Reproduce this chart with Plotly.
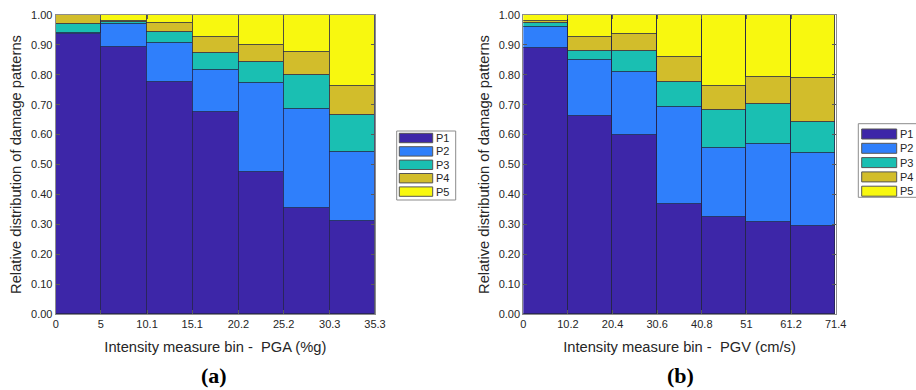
import plotly.graph_objects as go

patterns = ["P1", "P2", "P3", "P4", "P5"]
colors = ["#3d26a8", "#2f7ffb", "#1abfb2", "#d2bd2b", "#f8f80f"]

# Panel (a): PGA bins
pga_edges = [0, 5, 10.1, 15.1, 20.2, 25.2, 30.3, 35.3]
pga_labels = ["0", "5", "10.1", "15.1", "20.2", "25.2", "30.3", "35.3"]
pga_P1 = [0.937, 0.892, 0.776, 0.676, 0.474, 0.353, 0.311]
pga_P2 = [0.002, 0.077, 0.132, 0.140, 0.297, 0.333, 0.230]
pga_P3 = [0.030, 0.007, 0.034, 0.056, 0.072, 0.112, 0.125]
pga_P4 = [0.031, 0.004, 0.031, 0.054, 0.056, 0.078, 0.098]
pga_P5 = [0.000, 0.020, 0.027, 0.074, 0.101, 0.124, 0.236]

# Panel (b): PGV bins
pgv_edges = [0, 10.2, 20.4, 30.6, 40.8, 51, 61.2, 71.4]
pgv_labels = ["0", "10.2", "20.4", "30.6", "40.8", "51", "61.2", "71.4"]
pgv_P1 = [0.889, 0.662, 0.599, 0.369, 0.323, 0.307, 0.293]
pgv_P2 = [0.072, 0.186, 0.211, 0.322, 0.231, 0.262, 0.246]
pgv_P3 = [0.013, 0.033, 0.071, 0.085, 0.128, 0.135, 0.104]
pgv_P4 = [0.006, 0.047, 0.055, 0.082, 0.082, 0.090, 0.145]
pgv_P5 = [0.020, 0.072, 0.064, 0.142, 0.236, 0.206, 0.212]

pga_series = [pga_P1, pga_P2, pga_P3, pga_P4, pga_P5]
pgv_series = [pgv_P1, pgv_P2, pgv_P3, pgv_P4, pgv_P5]

W, H = 916, 390
fig = go.Figure()
edge_col = "#26264a"


def add_panel(edges, series, xa, ya):
    mids = [(edges[i] + edges[i + 1]) / 2 for i in range(len(edges) - 1)]
    widths = [edges[i + 1] - edges[i] for i in range(len(edges) - 1)]
    for name, vals, col in zip(patterns, series, colors):
        fig.add_trace(go.Bar(
            x=mids, y=vals, width=widths, name=name,
            marker=dict(color=col, line=dict(color=edge_col, width=0.8)),
            xaxis=xa, yaxis=ya, showlegend=False,
        ))


add_panel(pga_edges, pga_series, "x", "y")
add_panel(pgv_edges, pgv_series, "x2", "y2")

font = "Liberation Sans, Arial, sans-serif"
axis_common = dict(
    showline=True, linecolor="#8c8c8c", linewidth=1, mirror="ticks",
    ticks="inside", ticklen=4, tickcolor="#5a5a5a", showgrid=False,
    zeroline=False, automargin=False,
    tickfont=dict(family=font, size=11, color="#262626"),
)

ydom = [1 - 314 / H, 1 - 15 / H]
ytitle = "Relative distribution of damage patterns"
fig.update_layout(
    width=W, height=H, barmode="stack", bargap=0,
    margin=dict(l=0, r=0, t=0, b=0, autoexpand=False),
    paper_bgcolor="white", plot_bgcolor="white",
    font=dict(family=font, color="#262626"),
    showlegend=False,
    xaxis=dict(domain=[55.7 / W, 375 / W], range=[0, 35.3],
               tickvals=pga_edges, ticktext=pga_labels,
               title=dict(text="Intensity measure bin -  PGA (%g)", font=dict(size=14.7), standoff=12),
               **axis_common),
    yaxis=dict(domain=ydom, range=[0, 1], dtick=0.1, tickformat=".2f",
               title=dict(text=ytitle, font=dict(size=14.7), standoff=5),
               **axis_common),
    xaxis2=dict(domain=[523.3 / W, 835.7 / W], range=[0, 71.4], anchor="y2",
                tickvals=pgv_edges, ticktext=pgv_labels,
                title=dict(text="Intensity measure bin -  PGV (cm/s)", font=dict(size=14.7), standoff=12),
                **axis_common),
    yaxis2=dict(domain=ydom, range=[0, 1], dtick=0.1, tickformat=".2f", anchor="x2",
                title=dict(text=ytitle, font=dict(size=14.7), standoff=5),
                **axis_common),
)


def add_legend(bx0, by0, bx1, by1, sx0, sx1, first_top, step, sh, tx):
    # MATLAB-style legend box with wide swatches (pixel positions -> paper coords)
    fig.add_shape(type="rect", xref="paper", yref="paper",
                  x0=bx0 / W, x1=bx1 / W, y0=1 - by0 / H, y1=1 - by1 / H,
                  line=dict(color="#8c8c8c", width=1), fillcolor="white", layer="above")
    for i, (name, col) in enumerate(zip(patterns, colors)):
        top = first_top + step * i
        fig.add_shape(type="rect", xref="paper", yref="paper",
                      x0=sx0 / W, x1=sx1 / W,
                      y0=1 - top / H, y1=1 - (top + sh) / H,
                      line=dict(color="#555555", width=1), fillcolor=col, layer="above")
        fig.add_annotation(text=name, xref="paper", yref="paper", x=tx / W, y=1 - (top + sh / 2) / H,
                           xanchor="left", yanchor="middle", showarrow=False,
                           font=dict(family=font, size=11, color="#262626"))


add_legend(396.7, 131, 455.7, 200, 399.3, 432.7, 133.3, 13.4, 9.4, 433.5)
add_legend(858.3, 123.7, 918, 197.3, 861.7, 896.7, 129, 14.3, 10, 897.5)

cap_font = dict(family="Liberation Serif, Times New Roman, serif", size=22, color="black")
fig.add_annotation(text="<b>(a)</b>", x=214 / W, y=1 - 375 / H, xref="paper", yref="paper",
                   xanchor="center", yanchor="middle", showarrow=False, font=cap_font)
fig.add_annotation(text="<b>(b)</b>", x=680 / W, y=1 - 375 / H, xref="paper", yref="paper",
                   xanchor="center", yanchor="middle", showarrow=False, font=cap_font)

fig.write_html("out.html", config={"displayModeBar": False},
               post_script="document.body.style.margin='0';document.body.style.overflow='hidden';")
